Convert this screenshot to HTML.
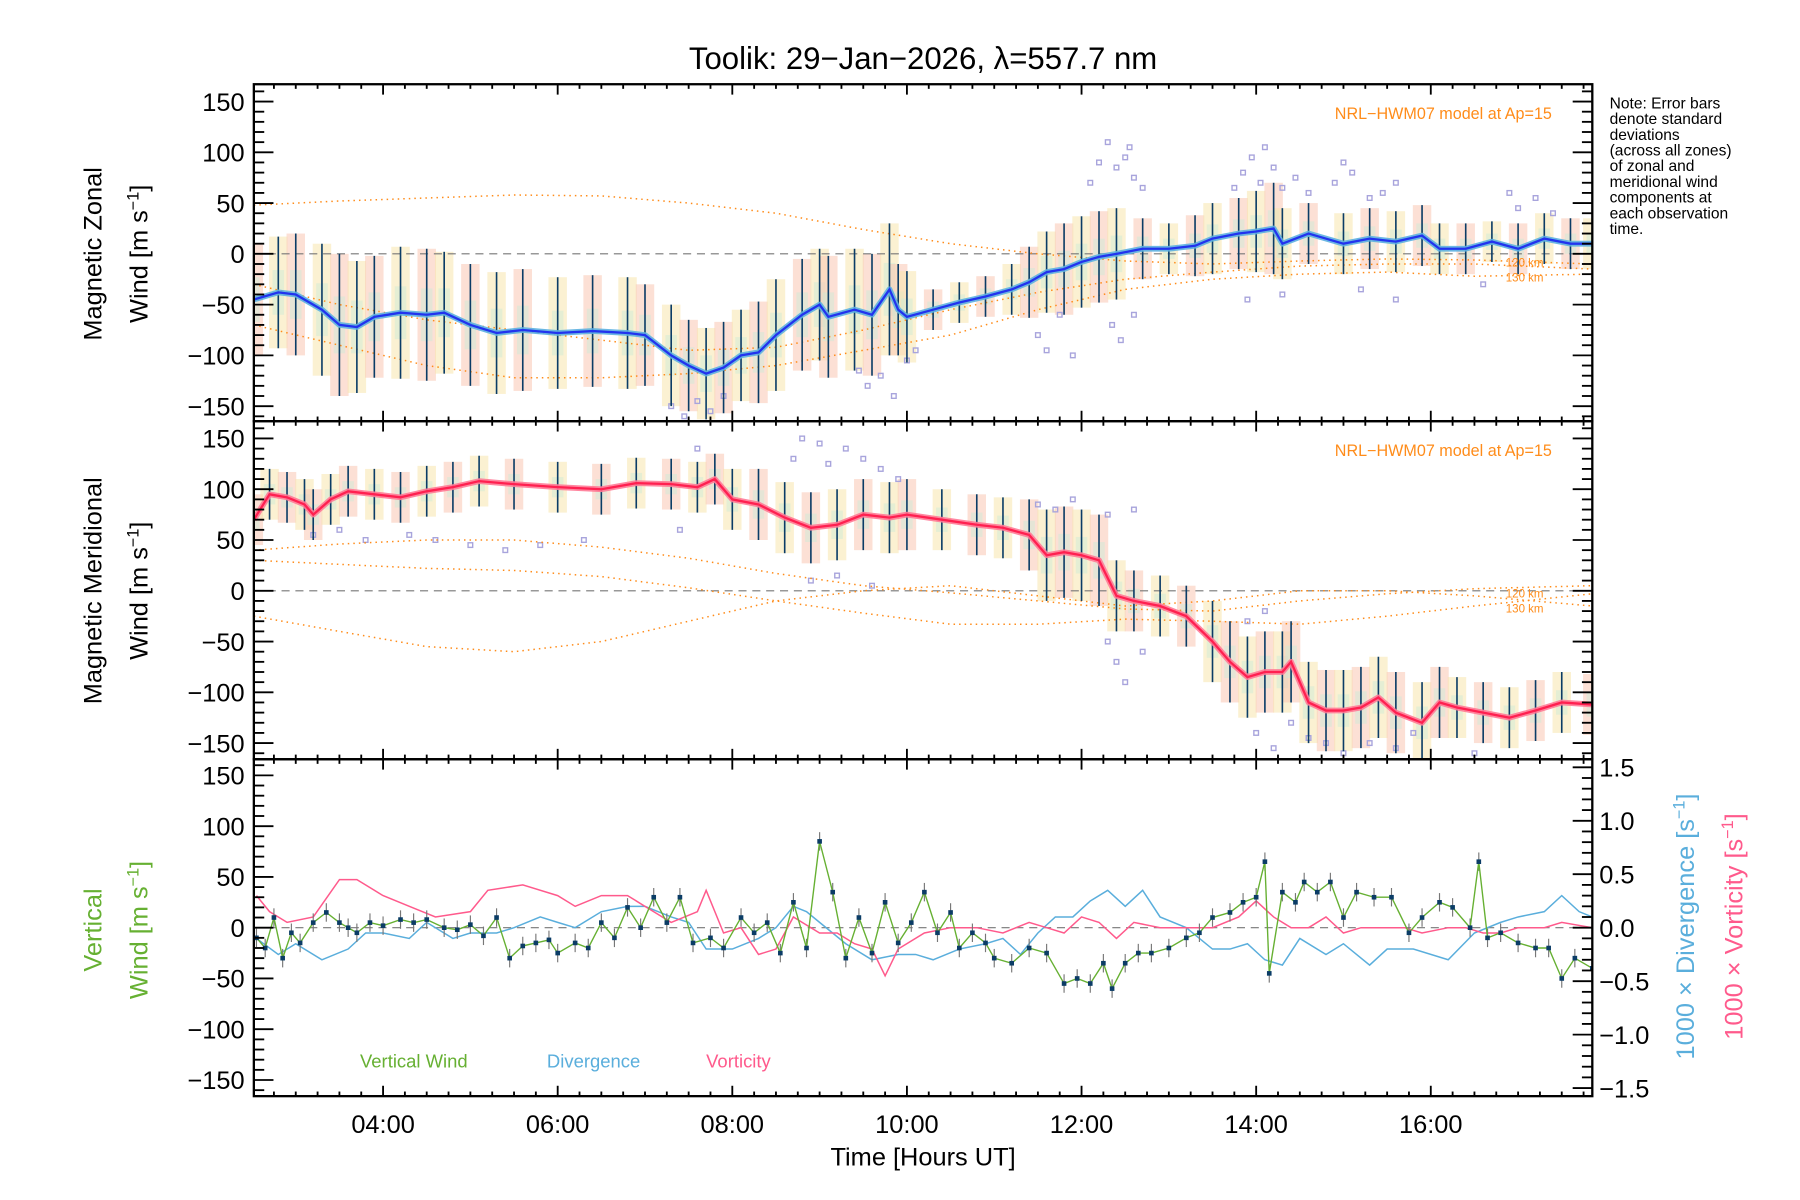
<!DOCTYPE html>
<html><head><meta charset="utf-8"><title>Toolik winds</title>
<style>html,body{margin:0;padding:0;background:#fff;}svg{display:block;font-family:"Liberation Sans",sans-serif;}</style></head>
<body>
<svg id="chart" width="1800" height="1200" viewBox="0 0 1560 1040" xmlns="http://www.w3.org/2000/svg">
<rect x="0" y="0" width="1560" height="1040" fill="#fff"/>
<text x="800" y="60" font-size="27" text-anchor="middle">Toolik: 29−Jan−2026, λ=557.7 nm</text>
<g id="layer"></g>
<text font-size="13.5" x="1395" y="94">
<tspan x="1395" dy="0">Note: Error bars</tspan><tspan x="1395" dy="13.6">denote standard</tspan><tspan x="1395" dy="13.6">deviations</tspan><tspan x="1395" dy="13.6">(across all zones)</tspan><tspan x="1395" dy="13.6">of zonal and</tspan><tspan x="1395" dy="13.6">meridional wind</tspan><tspan x="1395" dy="13.6">components at</tspan><tspan x="1395" dy="13.6">each observation</tspan><tspan x="1395" dy="13.6">time.</tspan></text>
<text font-size="22" text-anchor="middle" transform="translate(88,220) rotate(-90)">Magnetic Zonal</text>
<text font-size="22" text-anchor="middle" transform="translate(128,220) rotate(-90)">Wind [m s<tspan dy="-8" font-size="14">−1</tspan><tspan dy="8">]</tspan></text>
<text font-size="22" text-anchor="middle" transform="translate(88,512) rotate(-90)">Magnetic Meridional</text>
<text font-size="22" text-anchor="middle" transform="translate(128,512) rotate(-90)">Wind [m s<tspan dy="-8" font-size="14">−1</tspan><tspan dy="8">]</tspan></text>
<text font-size="22" fill="#66b032" text-anchor="middle" transform="translate(88,806) rotate(-90)">Vertical</text>
<text font-size="22" fill="#66b032" text-anchor="middle" transform="translate(128,806) rotate(-90)">Wind [m s<tspan dy="-8" font-size="14">−1</tspan><tspan dy="8">]</tspan></text>
<text font-size="22" fill="#5aaedc" text-anchor="middle" transform="translate(1468,803) rotate(-90)">1000 × Divergence [s<tspan dy="-8" font-size="14">−1</tspan><tspan dy="8">]</tspan></text>
<text font-size="22" fill="#ff5a8c" text-anchor="middle" transform="translate(1510,803) rotate(-90)">1000 × Vorticity [s<tspan dy="-8" font-size="14">−1</tspan><tspan dy="8">]</tspan></text>
<text x="800" y="1010" font-size="22" text-anchor="middle">Time [Hours UT]</text>
<text x="312" y="925" font-size="16" fill="#66b032">Vertical Wind</text>
<text x="474" y="925" font-size="16" fill="#5aaedc">Divergence</text>
<text x="612" y="925" font-size="16" fill="#ff5a8c">Vorticity</text>
<text x="1345" y="103" font-size="14" fill="#ff8c1a" text-anchor="end">NRL−HWM07 model at Ap=15</text>
<text x="1345" y="395" font-size="14" fill="#ff8c1a" text-anchor="end">NRL−HWM07 model at Ap=15</text>
<text x="1305" y="231" font-size="10" fill="#ff8c1a">120 km</text>
<text x="1305" y="244" font-size="10" fill="#ff8c1a">130 km</text>
<text x="1305" y="518" font-size="10" fill="#ff8c1a">120 km</text>
<text x="1305" y="531" font-size="10" fill="#ff8c1a">130 km</text>
</svg>
<script>
// ---- data ----
const xTickLabels=["04:00","06:00","08:00","10:00","12:00","14:00","16:00"];
const xTickHours=[4,6,8,10,12,14,16];
const yTickVals=[-150,-100,-50,0,50,100,150];
const rTickVals=[-1.5,-1.0,-0.5,0.0,0.5,1.0,1.5];
const zT=[2.52,2.8,3.0,3.3,3.5,3.7,3.9,4.2,4.5,4.7,5.0,5.3,5.6,6.0,6.4,6.8,7.0,7.3,7.5,7.7,7.9,8.1,8.3,8.5,8.8,9.0,9.1,9.4,9.6,9.8,9.9,10.0,10.3,10.6,10.9,11.2,11.4,11.6,11.8,12.0,12.2,12.4,12.7,13.0,13.3,13.5,13.8,14.0,14.2,14.3,14.6,15.0,15.3,15.6,15.9,16.1,16.4,16.7,17.0,17.3,17.6,17.85];
const zV=[-45,-38,-40,-55,-70,-72,-62,-58,-60,-58,-70,-78,-75,-78,-76,-78,-80,-100,-110,-118,-112,-100,-97,-80,-60,-50,-62,-55,-60,-35,-55,-62,-55,-48,-42,-35,-28,-18,-15,-8,-3,0,5,5,8,15,20,22,25,10,20,10,15,12,18,5,5,12,5,15,10,10];
const zS=[55,55,60,65,70,65,60,65,65,60,60,60,60,55,55,55,50,50,45,45,45,45,50,55,55,55,60,60,60,65,45,45,20,20,20,25,35,40,45,45,45,45,30,25,30,35,35,40,45,35,30,30,30,30,30,25,25,20,25,25,25,25];
const zOutT=[7.3,7.45,7.6,7.75,7.9,9.45,9.55,9.7,9.85,10.0,10.1,11.5,11.6,11.75,11.9,12.1,12.2,12.3,12.4,12.5,12.55,12.6,12.7,12.35,12.45,12.6,13.75,13.85,13.95,14.05,14.1,14.2,14.3,14.45,14.6,14.9,15.0,15.1,15.3,15.45,15.6,16.9,17.0,17.2,17.4,13.9,14.3,15.2,15.6,16.6];
const zOutV=[-150,-160,-145,-155,-140,-115,-130,-120,-140,-105,-95,-80,-95,-60,-100,70,90,110,85,95,105,75,65,-70,-85,-60,65,80,95,70,105,85,65,75,60,70,90,80,55,60,70,60,45,55,40,-45,-40,-35,-45,-30];
const mT=[2.52,2.7,2.9,3.1,3.2,3.4,3.6,3.9,4.2,4.5,4.8,5.1,5.5,6.0,6.5,6.9,7.3,7.6,7.8,8.0,8.3,8.6,8.9,9.2,9.5,9.8,10.0,10.4,10.8,11.1,11.4,11.6,11.8,12.0,12.2,12.4,12.6,12.9,13.2,13.5,13.7,13.9,14.1,14.3,14.4,14.6,14.8,15.0,15.2,15.4,15.6,15.9,16.1,16.3,16.6,16.9,17.2,17.5,17.85];
const mV=[70,95,92,85,75,90,98,95,92,98,102,108,105,102,100,106,105,102,110,90,85,72,62,65,75,72,75,70,65,62,55,35,38,35,30,-5,-10,-15,-25,-50,-70,-85,-80,-80,-70,-110,-118,-118,-115,-105,-120,-130,-110,-115,-120,-125,-118,-110,-112];
const mS=[25,25,25,25,25,25,25,25,25,25,25,25,25,25,25,25,25,25,25,30,35,35,35,35,35,35,35,30,30,30,35,45,45,45,45,35,30,30,30,40,40,40,40,40,40,40,40,40,40,40,40,40,35,30,30,30,30,30,30];
const mOutT=[3.2,3.5,3.8,4.3,4.6,5.0,5.4,5.8,6.3,7.4,7.6,8.7,8.8,9.0,9.1,9.3,9.5,9.7,9.9,8.9,9.2,9.6,11.5,11.7,11.9,12.3,12.4,12.5,12.7,12.3,12.6,14.0,14.2,14.4,14.6,14.8,15.0,15.3,15.6,15.8,13.9,14.1,16.5];
const mOutV=[55,60,50,55,50,45,40,45,50,60,140,130,150,145,125,140,130,120,110,10,15,5,85,80,90,-50,-70,-90,-60,75,80,-140,-155,-130,-145,-150,-160,-150,-155,-140,-30,-20,-160];
const modelT=[2.52,3.5,4.5,5.5,6.5,7.5,8.5,9.5,10.5,11.5,12.5,13.5,14.5,15.5,16.5,17.85];
const zModA=[48,52,55,58,57,50,40,24,10,0,-7,-10,-7,-5,-6,-10];
const zModB=[-30,-50,-65,-75,-85,-95,-92,-75,-55,-38,-25,-18,-12,-10,-10,-15];
const zModC=[-70,-90,-110,-122,-122,-118,-110,-95,-80,-55,-35,-25,-20,-18,-22,-20];
const mModD=[40,46,50,50,43,32,17,5,-2,-10,-18,-20,-10,-3,2,5];
const mModE=[30,26,22,20,14,3,-10,-22,-33,-33,-28,-30,-33,-25,-15,-3];
const mModF=[-25,-40,-55,-60,-50,-30,-10,0,5,-5,-15,-10,0,0,-5,-15];
const vT=[2.55,2.65,2.75,2.85,2.95,3.05,3.2,3.35,3.5,3.6,3.7,3.85,4.0,4.2,4.35,4.5,4.7,4.85,5.0,5.15,5.3,5.45,5.6,5.75,5.9,6.0,6.2,6.35,6.5,6.65,6.8,6.95,7.1,7.25,7.4,7.55,7.75,7.9,8.1,8.25,8.4,8.55,8.7,8.85,9.0,9.15,9.3,9.45,9.6,9.75,9.9,10.05,10.2,10.35,10.5,10.6,10.75,10.9,11.0,11.2,11.4,11.6,11.8,11.95,12.1,12.25,12.35,12.5,12.65,12.8,13.0,13.2,13.35,13.5,13.7,13.85,14.0,14.1,14.15,14.3,14.45,14.55,14.7,14.85,15.0,15.15,15.35,15.55,15.75,15.9,16.1,16.25,16.45,16.55,16.65,16.8,17.0,17.2,17.35,17.5,17.65,17.85];
const vV=[-10,-20,10,-30,-5,-15,5,15,5,0,-5,5,2,8,5,8,0,-2,3,-8,10,-30,-18,-15,-12,-25,-15,-20,5,-10,20,0,30,5,30,-15,-10,-20,10,-5,5,-25,25,-20,85,35,-30,10,-25,25,-15,5,35,-5,15,-20,-5,-15,-30,-35,-20,-25,-55,-50,-55,-35,-60,-35,-25,-25,-20,-10,-5,10,15,25,30,65,-45,35,25,45,35,45,10,35,30,30,-5,10,25,20,0,65,-10,-5,-15,-20,-20,-50,-30,-40];
const dT=[2.55,2.8,3.0,3.3,3.6,3.8,4.0,4.3,4.5,4.8,5.0,5.3,5.5,5.8,6.0,6.2,6.5,6.8,7.0,7.3,7.5,7.7,8.0,8.3,8.5,8.7,8.85,9.0,9.3,9.6,9.9,10.1,10.3,10.6,10.9,11.1,11.3,11.5,11.7,11.9,12.1,12.3,12.5,12.7,12.9,13.2,13.5,13.7,13.9,14.1,14.3,14.5,14.8,15.0,15.3,15.5,15.8,16.2,16.5,16.8,17.0,17.3,17.5,17.7,17.85];
const dV=[-0.1,-0.25,-0.15,-0.3,-0.2,-0.05,-0.05,-0.1,0.05,-0.1,-0.05,-0.05,0.0,0.1,0.05,0.0,0.15,0.2,0.2,0.1,0.05,-0.2,-0.2,-0.1,0.0,0.2,0.15,0.05,-0.15,-0.3,-0.25,-0.25,-0.3,-0.2,-0.15,-0.1,-0.25,-0.05,0.1,0.1,0.25,0.35,0.2,0.35,0.1,0.0,-0.2,-0.2,-0.15,-0.3,-0.35,-0.1,-0.25,-0.15,-0.35,-0.2,-0.2,-0.3,-0.05,0.05,0.1,0.15,0.3,0.15,0.1];
const wT=[2.55,2.7,2.9,3.2,3.5,3.7,4.0,4.3,4.6,5.0,5.2,5.6,6.0,6.2,6.5,6.8,7.0,7.3,7.6,7.7,7.9,8.1,8.3,8.5,8.7,8.8,9.0,9.2,9.4,9.6,9.75,9.9,10.2,10.5,10.8,11.1,11.4,11.6,11.8,12.0,12.2,12.4,12.6,12.9,13.2,13.5,13.8,14.0,14.2,14.4,14.6,14.8,15.0,15.2,15.4,15.7,15.9,16.2,16.4,16.6,16.8,17.0,17.3,17.5,17.85];
const wV=[0.3,0.15,0.05,0.1,0.45,0.45,0.3,0.2,0.1,0.15,0.35,0.4,0.3,0.2,0.3,0.3,0.2,0.05,0.15,0.35,-0.05,0.0,-0.25,-0.2,0.1,0.05,-0.05,-0.05,-0.15,-0.2,-0.45,-0.2,-0.05,0.0,0.0,-0.05,0.05,0.0,-0.05,0.1,0.05,-0.1,0.05,0.0,0.0,0.0,0.1,0.25,0.1,0.0,0.0,0.1,-0.05,0.0,0.0,0.0,-0.05,0.0,0.0,-0.05,-0.05,0.0,0.0,0.05,0.0];

// ---- layout ----
const X0=220,X1=1380,T0=2.52,T1=17.85;
const panels=[{top:73,bot:365,zero:220},{top:365,bot:658,zero:512},{top:658,bot:950,zero:804}];
const PX=132/150;
const xs=t=>X0+(t-T0)/(T1-T0)*(X1-X0);
const ys=(p,v)=>panels[p].zero-v*PX;
const yr=v=>804-v*(139/1.5);
const NS='http://www.w3.org/2000/svg';
const layer=document.getElementById('layer');
function mk(tag,attrs,parent){const e=document.createElementNS(NS,tag);for(const k in attrs)e.setAttribute(k,attrs[k]);(parent||layer).appendChild(e);return e;}
function clipFor(p){const id='clip'+p;const cp=mk('clipPath',{id:id});mk('rect',{x:X0,y:panels[p].top,width:X1-X0,height:panels[p].bot-panels[p].top},cp);return 'url(#'+id+')';}
function poly(ts,vs,f,attrs,name,g){const pts=ts.map((t,i)=>xs(t).toFixed(1)+','+f(vs[i]).toFixed(1)).join(' ');const e=mk('polyline',Object.assign({points:pts,fill:'none'},attrs),g);


return e;}

function windPanel(p,T,V,S,OT,OV,lineCol,dotCol,mods,prefix){
  const g=mk('g',{'clip-path':clipFor(p)});
  
  
  const bandCols=['#f9c7b3','#f8e6ad'];
  T.forEach((t,i)=>{const x=xs(t),s=S[i];
    const r=mk('rect',{x:x-8,y:ys(p,V[i]+s),width:16,height:2*s*PX,fill:bandCols[i%2],opacity:0.55},g);
    
    
    const r2=mk('rect',{x:x-5,y:ys(p,V[i]+s*0.4),width:10,height:0.8*s*PX,fill:'#c9ecd8',opacity:0.45},g);
    
    
  });
  OT.forEach((t,i)=>{const r=mk('rect',{x:xs(t)-2,y:ys(p,OV[i])-2,width:4,height:4,fill:'none',stroke:'#a8a4dc','stroke-width':1.2},g);
    
    });
  mk('line',{x1:X0,x2:X1,y1:ys(p,0),y2:ys(p,0),stroke:'#777','stroke-dasharray':'7,5','stroke-width':1},g);
  mods.forEach((m,k)=>poly(modelT,m,v=>ys(p,v),{stroke:'#ff8c1a','stroke-width':1.3,'stroke-dasharray':'1.3,3.5'},prefix+'-model-curve-'+k,g));
  T.forEach((t,i)=>{const x=xs(t);
    const l=mk('line',{x1:x,x2:x,y1:ys(p,V[i]+S[i]),y2:ys(p,V[i]-S[i]),stroke:'#0b3c66','stroke-width':1.4},g);
    
    
  });
  poly(T,V,v=>ys(p,v),{stroke:dotCol,'stroke-width':5,'stroke-linejoin':'round',opacity:0.9},prefix+'-mean-halo',g);
  poly(T,V,v=>ys(p,v),{stroke:lineCol,'stroke-width':2},prefix+'-mean-line',g);
}
windPanel(0,zT,zV,zS,zOutT,zOutV,'#2233ee','#5cb0e0',[zModA,zModB,zModC],'zonal');
windPanel(1,mT,mV,mS,mOutT,mOutV,'#ff2050','#ff7a96',[mModD,mModE,mModF],'meridional');

// panel 3
const g3=mk('g',{'clip-path':clipFor(2)});


mk('line',{x1:X0,x2:X1,y1:804,y2:804,stroke:'#777','stroke-dasharray':'7,5','stroke-width':1},g3);
poly(dT,dV,yr,{stroke:'#5aaedc','stroke-width':1.3},'divergence-line',g3);
poly(wT,wV,yr,{stroke:'#ff5a8c','stroke-width':1.3},'vorticity-line',g3);
vT.forEach((t,i)=>{const x=xs(t);const y=ys(2,vV[i]);
  const l=mk('line',{x1:x,x2:x,y1:y-8,y2:y+8,stroke:'#777','stroke-width':1},g3);
  
  
});
poly(vT,vV,v=>ys(2,v),{stroke:'#66b032','stroke-width':1.2},'vertical-wind-line',g3);
vT.forEach((t,i)=>{const r=mk('rect',{x:xs(t)-2,y:ys(2,vV[i])-2,width:4,height:4,fill:'#0b3c66'},g3);
  
  
});

// axes & ticks
panels.forEach((pn,p)=>{
  const fr=mk('rect',{x:X0,y:pn.top,width:X1-X0,height:pn.bot-pn.top,fill:'none',stroke:'#000','stroke-width':2});
  
  
  for(let v=-160;v<=160;v+=10){const y=ys(p,v);const maj=v%50===0;const len=maj?17:9;
    mk('line',{x1:X0,x2:X0+len,y1:y,y2:y,stroke:'#000','stroke-width':1.6});
    if(p<2)mk('line',{x1:X1,x2:X1-len,y1:y,y2:y,stroke:'#000','stroke-width':1.6});}
  yTickVals.forEach(v=>{const t=mk('text',{x:212,y:ys(p,v)+8,'font-size':22,'text-anchor':'end'});t.textContent=(v<0?'−':'')+Math.abs(v);
    
    });
  for(let h=2.75;h<=T1;h+=0.25){const x=xs(h);const maj=Math.abs(h/2-Math.round(h/2))<1e-6;const len=maj?9:4;
    mk('line',{x1:x,x2:x,y1:pn.top,y2:pn.top+len,stroke:'#000','stroke-width':1.6});
    mk('line',{x1:x,x2:x,y1:pn.bot,y2:pn.bot-len,stroke:'#000','stroke-width':1.6});}
});
for(let v=-1.5;v<=1.501;v+=0.1){const y=yr(v);const maj=Math.abs(v*2-Math.round(v*2))<1e-6;const len=maj?17:9;
  mk('line',{x1:X1,x2:X1-len,y1:y,y2:y,stroke:'#000','stroke-width':1.6});}
rTickVals.forEach(v=>{const t=mk('text',{x:1386,y:yr(v)+8,'font-size':22});t.textContent=(v<0?'−':'')+Math.abs(v).toFixed(1);
  
  });
xTickHours.forEach((h,i)=>{const t=mk('text',{x:xs(h),y:982,'font-size':22,'text-anchor':'middle'});t.textContent=xTickLabels[i];
  
  });
</script>
</body></html>
